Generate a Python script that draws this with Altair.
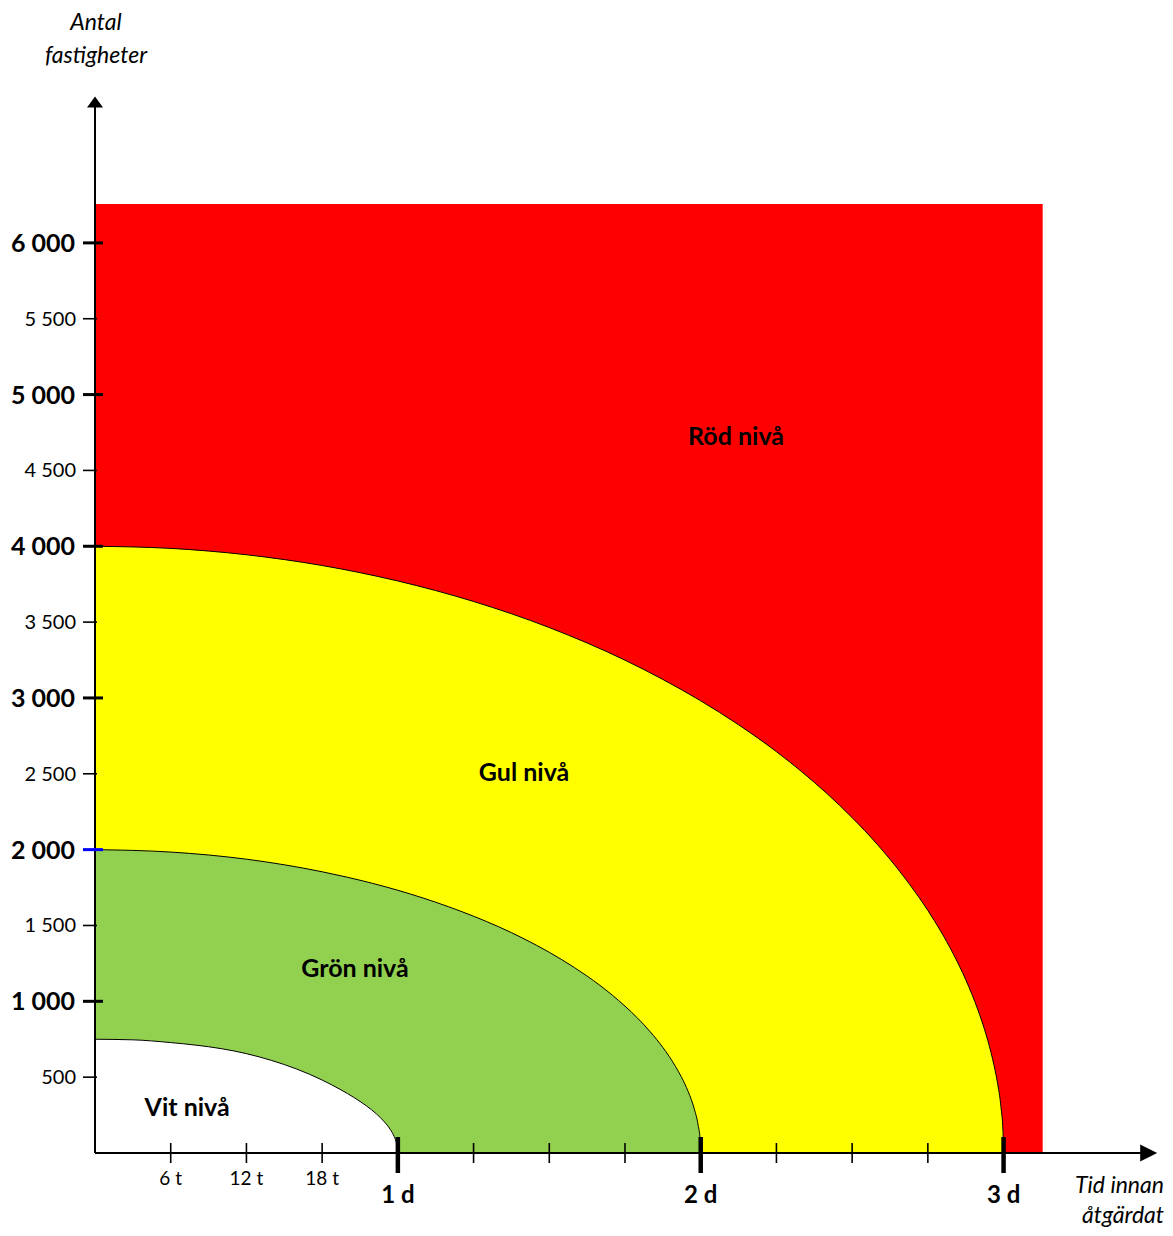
import altair as alt
import pandas as pd

# ---------------- data ----------------
# red area (Röd nivå) extent
red_hours_max = 75.1
red_count_max = 6256

# boundary Gul / Röd (hours, number of properties)
yellow_hours = [0, 6, 12, 18, 24, 30, 36, 42, 45, 48, 51, 54, 56, 58, 60, 62, 64, 65,
                66, 67, 68, 69, 70, 70.5, 71, 71.25, 71.5, 71.8, 71.95, 72]
yellow_counts = [4000, 3986, 3944, 3873, 3771, 3636, 3464, 3249, 3122, 2981, 2823, 2646,
                 2514, 2370, 2211, 2034, 1832, 1720, 1599, 1465, 1315, 1143, 936, 812,
                 664, 576, 471, 298, 149, 0]

# boundary Grön / Gul
green_hours = [0, 6, 12, 18, 20, 24, 28, 30, 32, 34, 36, 38, 39, 40, 41, 42, 43, 44, 45,
               46, 46.5, 47, 47.5, 47.8, 47.95, 48]
green_counts = [2000, 1984, 1937, 1854, 1818, 1732, 1624, 1561, 1491, 1412, 1323, 1222,
                1166, 1106, 1040, 968, 889, 799, 696, 571, 496, 406, 288, 182, 91, 0]

# boundary Vit / Grön
white_hours = [0, 3, 6, 8, 10, 12, 14, 16, 18, 19.5, 20.5, 21.5, 22.3, 22.9, 23.4,
               23.7, 23.9, 23.97, 24]
white_counts = [750, 746, 728, 711, 688, 655, 610, 553, 481, 416, 367, 311, 258, 208,
                155, 110, 63, 34, 0]

# axis ticks
y_tick_values = [500, 1000, 1500, 2000, 2500, 3000, 3500, 4000, 4500, 5000, 5500, 6000]
y_tick_labels = ["500", "1 000", "1 500", "2 000", "2 500", "3 000", "3 500", "4 000",
                 "4 500", "5 000", "5 500", "6 000"]
x_tick_values = [6, 12, 18, 24, 30, 36, 42, 48, 54, 60, 66, 72]
x_tick_labels = ["6 t", "12 t", "18 t", "1 d", "", "", "", "2 d", "", "", "", "3 d"]
highlight_tick = 2000

# region labels
level_names = ["Röd nivå", "Gul nivå", "Grön nivå", "Vit nivå"]
level_label_hours = [50.8, 34.0, 20.6, 7.3]
level_label_counts = [4720, 2505, 1213, 297]

x_title_lines = ["Tid innan", "åtgärdat"]
y_title_lines = ["Antal", "fastigheter"]

x_axis_end = 83.5
y_axis_end = 6929
x_domain = [0, 84]
y_domain = [0, 6975]

# ---------------- chart ----------------
FONT = "Lato"
xs = alt.Scale(domain=x_domain, nice=False, zero=False)
ys = alt.Scale(domain=y_domain, nice=False, zero=False)
X = lambda f="h": alt.X(f"{f}:Q", scale=xs, axis=None)
Y = lambda f="n": alt.Y(f"{f}:Q", scale=ys, axis=None)

red_df = pd.DataFrame({"h": [0], "h2": [red_hours_max], "n": [0], "n2": [red_count_max]})
red = alt.Chart(red_df).mark_rect(color="#FF0000").encode(
    x=X(), x2="h2:Q", y=Y(), y2="n2:Q")


def region(hours, counts, color):
    df = pd.DataFrame({"h": hours, "n": counts})
    return alt.Chart(df).mark_area(
        color=color, opacity=1, interpolate="monotone",
        stroke="black", strokeWidth=1
    ).encode(x=X(), y=alt.Y("n:Q", scale=ys, axis=None, stack=False))


yellow = region(yellow_hours, yellow_counts, "#FFFF00")
green = region(green_hours, green_counts, "#92D050")
white = region(white_hours, white_counts, "#FFFFFF")

# axis lines and arrows
yaxis_df = pd.DataFrame({"h": [0], "n": [0], "n2": [y_axis_end]})
yaxis = alt.Chart(yaxis_df).mark_rule(color="black", strokeWidth=2).encode(
    x=X(), y=Y(), y2="n2:Q")
xaxis_df = pd.DataFrame({"h": [0], "h2": [x_axis_end], "n": [0]})
xaxis = alt.Chart(xaxis_df).mark_rule(color="black", strokeWidth=2).encode(
    x=X(), x2="h2:Q", y=Y())

up_df = pd.DataFrame({"h": [0], "n": [y_axis_end]})
up_arrow = alt.Chart(up_df).mark_point(
    shape="M0,-0.7L1,0.7L-1,0.7Z", size=256, filled=True, color="black", opacity=1
).encode(x=X(), y=Y())
right_df = pd.DataFrame({"h": [x_axis_end], "n": [0]})
right_arrow = alt.Chart(right_df).mark_point(
    shape="M1,0L-1,-1L-1,1Z", size=289, filled=True, color="black", opacity=1
).encode(x=X(), y=Y())

# y ticks
yt = pd.DataFrame({"h": 0, "n": y_tick_values, "label": y_tick_labels})
yt["major"] = yt["n"] % 1000 == 0
yt["hl"] = yt["n"] == highlight_tick
yt_minor = yt[~yt["major"]]
yt_major = yt[yt["major"]]

y_ticks_minor = alt.Chart(yt_minor).mark_tick(
    orient="horizontal", size=14, thickness=1.6, xOffset=-5, color="black", opacity=1
).encode(x=X(), y=Y())
y_ticks_major = alt.Chart(yt_major).mark_tick(
    orient="horizontal", size=20, thickness=3, xOffset=-2, opacity=1
).encode(x=X(), y=Y(),
         color=alt.condition("datum.hl", alt.value("#0000FF"), alt.value("black")))
y_labels_minor = alt.Chart(yt_minor).mark_text(
    align="right", baseline="middle", dx=-19, dy=1, font=FONT, fontSize=20, color="black"
).encode(x=X(), y=Y(), text="label:N")
y_labels_major = alt.Chart(yt_major).mark_text(
    align="right", baseline="middle", dx=-20, dy=1, font=FONT, fontSize=25,
    fontWeight="bold", color="black"
).encode(x=X(), y=Y(), text="label:N")

# x ticks
xt = pd.DataFrame({"h": x_tick_values, "n": 0, "label": x_tick_labels})
xt["day"] = xt["h"] % 24 == 0
xt_minor = xt[~xt["day"]]
xt_day = xt[xt["day"]]

x_ticks_minor = alt.Chart(xt_minor).mark_tick(
    orient="vertical", size=20, thickness=1.6, color="black", opacity=1
).encode(x=X(), y=Y())
x_ticks_day = alt.Chart(xt_day).mark_tick(
    orient="vertical", size=36, thickness=4.5, yOffset=2, color="black", opacity=1
).encode(x=X(), y=Y())
x_labels_minor = alt.Chart(xt_minor).mark_text(
    align="center", baseline="middle", dy=26, font=FONT, fontSize=19, color="black"
).encode(x=X(), y=Y(), text="label:N")
x_labels_day = alt.Chart(xt_day).mark_text(
    align="center", baseline="middle", dy=43, font=FONT, fontSize=24,
    fontWeight="bold", color="black"
).encode(x=X(), y=Y(), text="label:N")

# region labels
lv = pd.DataFrame({"h": level_label_hours, "n": level_label_counts, "label": level_names})
level_labels = alt.Chart(lv).mark_text(
    align="center", baseline="middle", font=FONT, fontSize=25, fontWeight="bold",
    color="black"
).encode(x=X(), y=Y(), text="label:N")

# axis titles
title_df = pd.DataFrame({"k": [0]})
y_title = alt.Chart(title_df).mark_text(
    align="center", baseline="alphabetic", font=FONT, fontSize=23, fontStyle="italic",
    lineHeight=33, color="black"
).encode(x=alt.value(1), y=alt.value(-65), text=alt.value(y_title_lines))
x_title = alt.Chart(title_df).mark_text(
    align="right", baseline="alphabetic", font=FONT, fontSize=23, fontStyle="italic",
    lineHeight=30, color="black"
).encode(x=alt.value(1069), y=alt.value(1098), text=alt.value(x_title_lines))

chart = alt.layer(
    red, yellow, green, white,
    xaxis, yaxis, up_arrow, right_arrow,
    y_ticks_minor, y_ticks_major, y_labels_minor, y_labels_major,
    x_ticks_minor, x_ticks_day, x_labels_minor, x_labels_day,
    level_labels, y_title, x_title
).properties(
    width=1060, height=1058,
    autosize=alt.AutoSizeParams(type="none"),
    padding={"left": 87, "top": 87, "right": 10, "bottom": 75},
    background="white"
).configure_view(stroke="transparent")

chart.save("out.html", embed_options={"renderer": "svg", "actions": False})
